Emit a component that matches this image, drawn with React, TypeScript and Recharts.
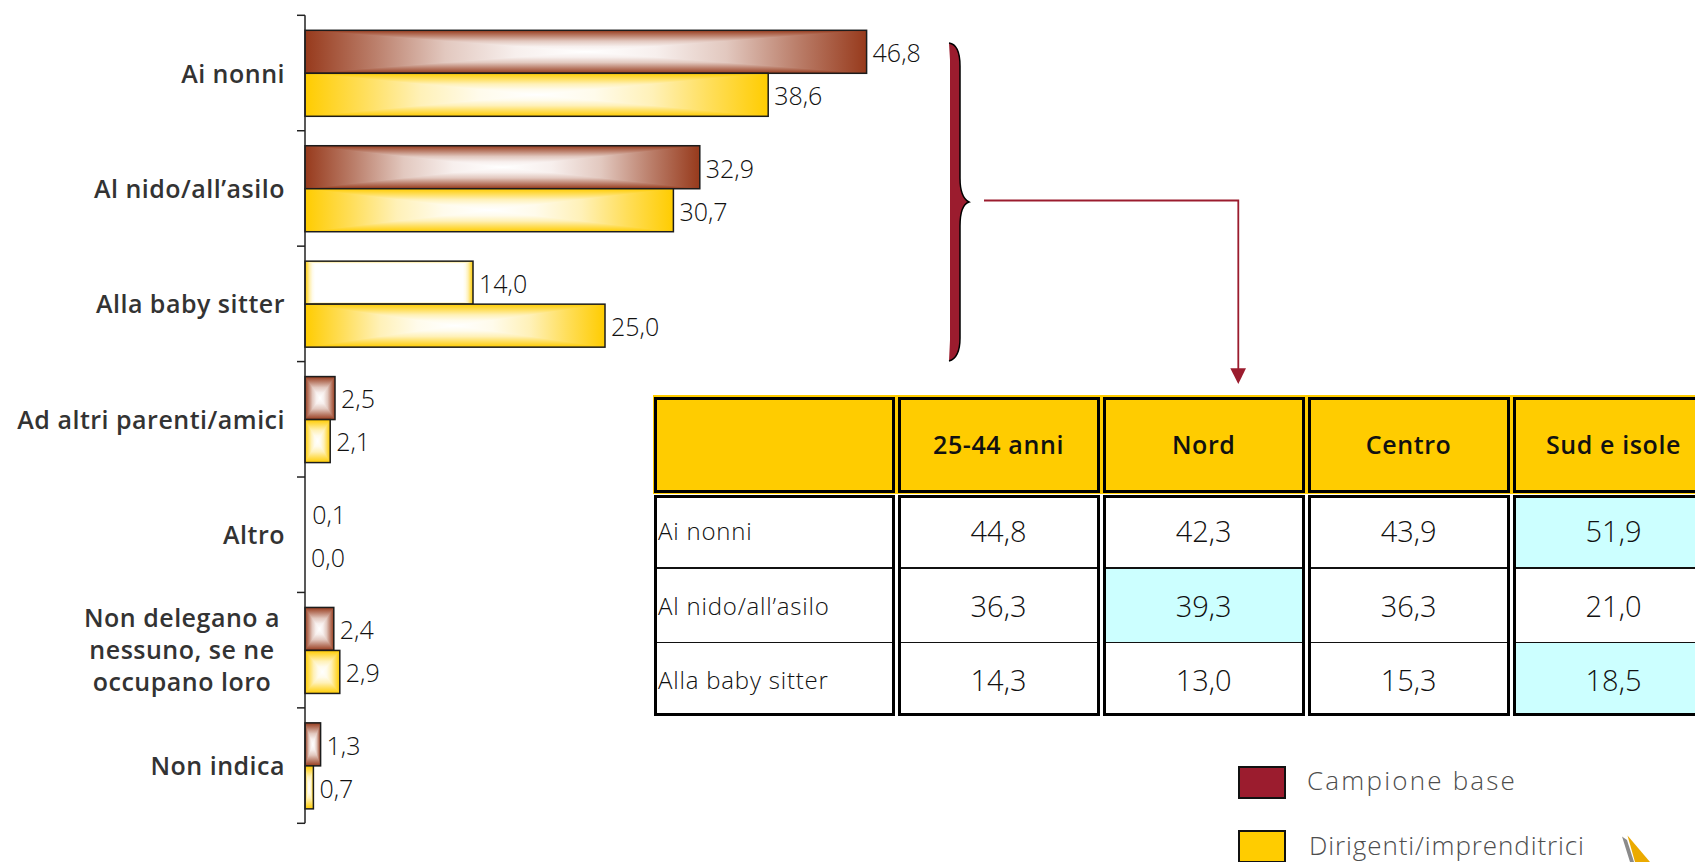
import { BarChart, Bar, XAxis, YAxis, LabelList, Legend } from "recharts";

const categories = [
  "Ai nonni",
  "Al nido/all’asilo",
  "Alla baby sitter",
  "Ad altri parenti/amici",
  "Altro",
  "Non delegano a nessuno, se ne occupano loro",
  "Non indica",
];
const campioneBase = [46.8, 32.9, 14.0, 2.5, 0.1, 2.4, 1.3];
const dirigenti = [38.6, 30.7, 25.0, 2.1, 0.0, 2.9, 0.7];

const tableColumns = ["", "25-44 anni", "Nord", "Centro", "Sud e isole"];
const tableRows = ["Ai nonni", "Al nido/all’asilo", "Alla baby sitter"];
const tableValues = [
  ["44,8", "42,3", "43,9", "51,9"],
  ["36,3", "39,3", "36,3", "21,0"],
  ["14,3", "13,0", "15,3", "18,5"],
];
const highlighted = ["0-3", "1-1", "2-3"];

const data = categories.map((category, i) => ({
  category,
  base: campioneBase[i],
  dirigenti: dirigenti[i],
}));

const FONT = "'Open Sans', Lato, sans-serif";
const RED = "#9B1C2E";
const YELLOW = "#FFCC00";
const BAND = 115.43;
const colLefts = [654, 897.5, 1102.7, 1307.6, 1512.5];
const colWidths = [241, 202, 202, 202, 202];
const rowTops = [498, 568, 642.5];
const rowHeights = [70, 74.5, 70.5];
const rowTextShift = [-2.5, 0, 2];
const legendSpacing = [2.2, 0.9];
// how far a bar colour has faded to white along the way to the bar's middle
const fadeStops = [
  [0, 0],
  [0.25, 0.35],
  [0.5, 0.72],
  [0.75, 0.92],
  [1, 1],
];

const formatValue = (v: any) => Number(v).toFixed(1).replace(".", ",");

function towardsWhite(hex: string, t: number) {
  const channel = (i: number) => {
    const c = parseInt(hex.slice(i, i + 2), 16);
    return Math.round(c + (255 - c) * t);
  };
  return `rgb(${channel(1)},${channel(3)},${channel(5)})`;
}

function CategoryTick({ x, y, payload, index }: any) {
  const text: string = payload.value;
  const multiline = text.startsWith("Non delegano");
  const lines = multiline ? ["Non delegano a", "nessuno, se ne", "occupano loro"] : [text];
  const isLast = index === categories.length - 1;
  return (
    <g>
      <line x1={x} x2={x + 8} y1={y - BAND / 2} y2={y - BAND / 2} stroke="#222" strokeWidth={1.5} />
      {isLast && <line x1={x} x2={x + 8} y1={y + BAND / 2} y2={y + BAND / 2} stroke="#222" strokeWidth={1.5} />}
      <text
        x={multiline ? 182 : 285}
        y={y}
        textAnchor={multiline ? "middle" : "end"}
        fontFamily={FONT}
        fontWeight={600}
        fontSize={25}
        letterSpacing={0.5}
        fill="#333"
      >
        {lines.map((line, i) => (
          <tspan key={line} x={multiline ? 182 : 285} dy={i === 0 ? (multiline ? -23 : 9.5) : 32}>
            {line}
          </tspan>
        ))}
      </text>
    </g>
  );
}

// rectangular "path" gradient: a horizontal fade with two triangles on top for the vertical fade
function GradientBar({ x, y, width, height, index, tone }: any) {
  if (width < 2) return null;
  const id = tone === "base" && index === 2 ? "pale" : tone;
  const cx = x + width / 2;
  const cy = y + height / 2;
  const r = x + width;
  const b = y + height;
  return (
    <g>
      <rect x={x} y={y} width={width} height={height} fill={`url(#${id}-h)`} />
      <polygon points={`${x},${y} ${r},${y} ${cx},${cy}`} fill={`url(#${id}-t)`} />
      <polygon points={`${x},${b} ${r},${b} ${cx},${cy}`} fill={`url(#${id}-b)`} />
      <rect x={x} y={y} width={width} height={height} fill="none" stroke="#1c1c1c" strokeWidth={1.5} />
    </g>
  );
}

function GradientSet({ id, color, reach = 1 }: { id: string; color: string; reach?: number }) {
  const stops = fadeStops.map(([at, fade]) => ({ at: at * reach, stopColor: towardsWhite(color, fade) }));
  return (
    <>
      <linearGradient id={`${id}-h`} x1={0} y1={0} x2={1} y2={0}>
        {stops.map((s) => (
          <stop key={`a${s.at}`} offset={s.at / 2} stopColor={s.stopColor} />
        ))}
        {[...stops].reverse().map((s) => (
          <stop key={`b${s.at}`} offset={1 - s.at / 2} stopColor={s.stopColor} />
        ))}
      </linearGradient>
      <linearGradient id={`${id}-t`} x1={0} y1={0} x2={0} y2={1}>
        {stops.map((s) => (
          <stop key={s.at} offset={s.at} stopColor={s.stopColor} />
        ))}
      </linearGradient>
      <linearGradient id={`${id}-b`} x1={0} y1={1} x2={0} y2={0}>
        {stops.map((s) => (
          <stop key={s.at} offset={s.at} stopColor={s.stopColor} />
        ))}
      </linearGradient>
    </>
  );
}

function LegendBox({ payload }: any) {
  return (
    <div>
      {(payload ?? []).map((item: any, i: number) => (
        <div key={item.value} style={{ position: "absolute", left: 0, top: i * 64.5, display: "flex", alignItems: "center" }}>
          <div style={{ width: 44, height: 29, background: item.color, border: "2px solid #111", flexShrink: 0 }} />
          <span
            style={{
              marginLeft: i === 0 ? 21 : 23,
              position: "relative",
              top: -2,
              fontFamily: FONT,
              fontWeight: 300,
              fontSize: 26,
              letterSpacing: legendSpacing[i],
              color: "#4d4d4d",
              whiteSpace: "nowrap",
            }}
          >
            {item.value}
          </span>
        </div>
      ))}
    </div>
  );
}

function DataTable() {
  return (
    <>
      <div style={{ position: "absolute", left: 653, top: 395, width: 1100, height: 99, background: YELLOW }} />
      {tableColumns.map((col, c) => (
        <div
          key={`h${c}`}
          style={{
            position: "absolute",
            left: colLefts[c],
            top: 397,
            width: colWidths[c],
            height: 96,
            boxSizing: "border-box",
            border: "3px solid #000",
            paddingBottom: 2,
            background: YELLOW,
            display: "flex",
            alignItems: "center",
            justifyContent: "center",
            fontFamily: FONT,
            fontWeight: 600,
            fontSize: 25,
            letterSpacing: 0.6,
            color: "#111",
          }}
        >
          {col}
        </div>
      ))}
      {colLefts.map((left, c) => (
        <div
          key={`c${c}`}
          style={{
            position: "absolute",
            left,
            top: 495,
            width: colWidths[c],
            height: 221,
            boxSizing: "border-box",
            border: "3px solid #000",
            background: "#fff",
          }}
        />
      ))}
      {tableRows.map((row, r) => (
        <div key={row}>
          <div
            style={{
              position: "absolute",
              left: colLefts[0] + 4,
              top: rowTops[r] + rowTextShift[r],
              height: rowHeights[r],
              display: "flex",
              alignItems: "center",
              fontFamily: FONT,
              fontWeight: 300,
              fontSize: 24,
              letterSpacing: 0.8,
              color: "#111",
              whiteSpace: "nowrap",
            }}
          >
            {row}
          </div>
          {tableValues[r].map((value, c) => (
            <div
              key={c}
              style={{
                position: "absolute",
                left: colLefts[c + 1] + 3,
                top: rowTops[r],
                width: colWidths[c + 1] - 6,
                height: rowHeights[r],
                background: highlighted.includes(`${r}-${c}`) ? "#CCFFFF" : "transparent",
                display: "flex",
                alignItems: "center",
                justifyContent: "center",
                fontFamily: FONT,
                fontWeight: 300,
                fontSize: 29,
                color: "#111",
              }}
            >
              <span style={{ position: "relative", top: rowTextShift[r] }}>{value}</span>
            </div>
          ))}
          {r > 0 &&
            colLefts.map((left, c) => (
              <div
                key={`d${c}`}
                style={{ position: "absolute", left: left + 3, top: rowTops[r] - 1, width: colWidths[c] - 6, height: 1.5, background: "#111" }}
              />
            ))}
        </div>
      ))}
    </>
  );
}

export default function App() {
  return (
    <div style={{ position: "absolute", left: 0, top: 0, width: 1695, height: 862, overflow: "hidden", background: "#fff" }}>
      <BarChart
        width={1695}
        height={862}
        data={data}
        layout="vertical"
        barSize={43}
        barGap={0}
        margin={{ top: 15.3, right: 190, bottom: 38.7, left: 0 }}
      >
        <defs>
          <GradientSet id="base" color="#973A1C" />
          <GradientSet id="top" color={YELLOW} />
          <GradientSet id="pale" color={YELLOW} reach={0.12} />
        </defs>
        <XAxis type="number" domain={[0, 100]} hide />
        <YAxis
          type="category"
          dataKey="category"
          width={305}
          interval={0}
          axisLine={{ stroke: "#222", strokeWidth: 1.5 }}
          tickLine={false}
          tick={<CategoryTick />}
        />
        <Legend
          layout="horizontal"
          verticalAlign="middle"
          content={<LegendBox />}
          wrapperStyle={{ left: 1238, top: 764, width: 400, height: 90 }}
        />
        <Bar
          dataKey="base"
          name="Campione base"
          fill={RED}
          isAnimationActive={false}
          shape={(p: any) => <GradientBar {...p} tone="base" />}
        >
          <LabelList dataKey="base" position="right" offset={6} dy={1.5} formatter={formatValue} fontFamily={FONT} fontWeight={300} fontSize={25} fill="#111" />
        </Bar>
        <Bar
          dataKey="dirigenti"
          name="Dirigenti/imprenditrici"
          fill={YELLOW}
          isAnimationActive={false}
          shape={(p: any) => <GradientBar {...p} tone="top" />}
        >
          <LabelList dataKey="dirigenti" position="right" offset={6} dy={1.5} formatter={formatValue} fontFamily={FONT} fontWeight={300} fontSize={25} fill="#111" />
        </Bar>
      </BarChart>

      <DataTable />

      {/* brace, connector and the small logo in the corner */}
      <svg width={1695} height={862} style={{ position: "absolute", left: 0, top: 0, pointerEvents: "none" }}>
        <path
          d="M949,43 C956,44 960,50 960,66 L960,178 C960,192 963,199 969,202 C963,204 960,212 960,226 L960,338 C960,353 956,359 949,361 L950,340 L950,60 Z"
          fill={RED}
        />
        <path
          d="M949,43 C956,44 960,50 960,66 L960,178 C960,192 963,199 969,202 C963,204 960,212 960,226 L960,338 C960,353 956,359 949,361"
          fill="none"
          stroke="#000"
          strokeWidth={1.5}
        />
        <polyline points="984,200.5 1238.3,200.5 1238.3,369" fill="none" stroke={RED} strokeWidth={1.8} />
        <polygon points="1230.3,368.3 1246,368.3 1238.3,384" fill={RED} />
        <polygon points="1622,836.5 1627,840 1634,862 1630,862" fill="#8a8a8a" />
        <polygon points="1627.5,835.5 1650,862 1635,862" fill="#EBAA00" />
      </svg>
    </div>
  );
}
